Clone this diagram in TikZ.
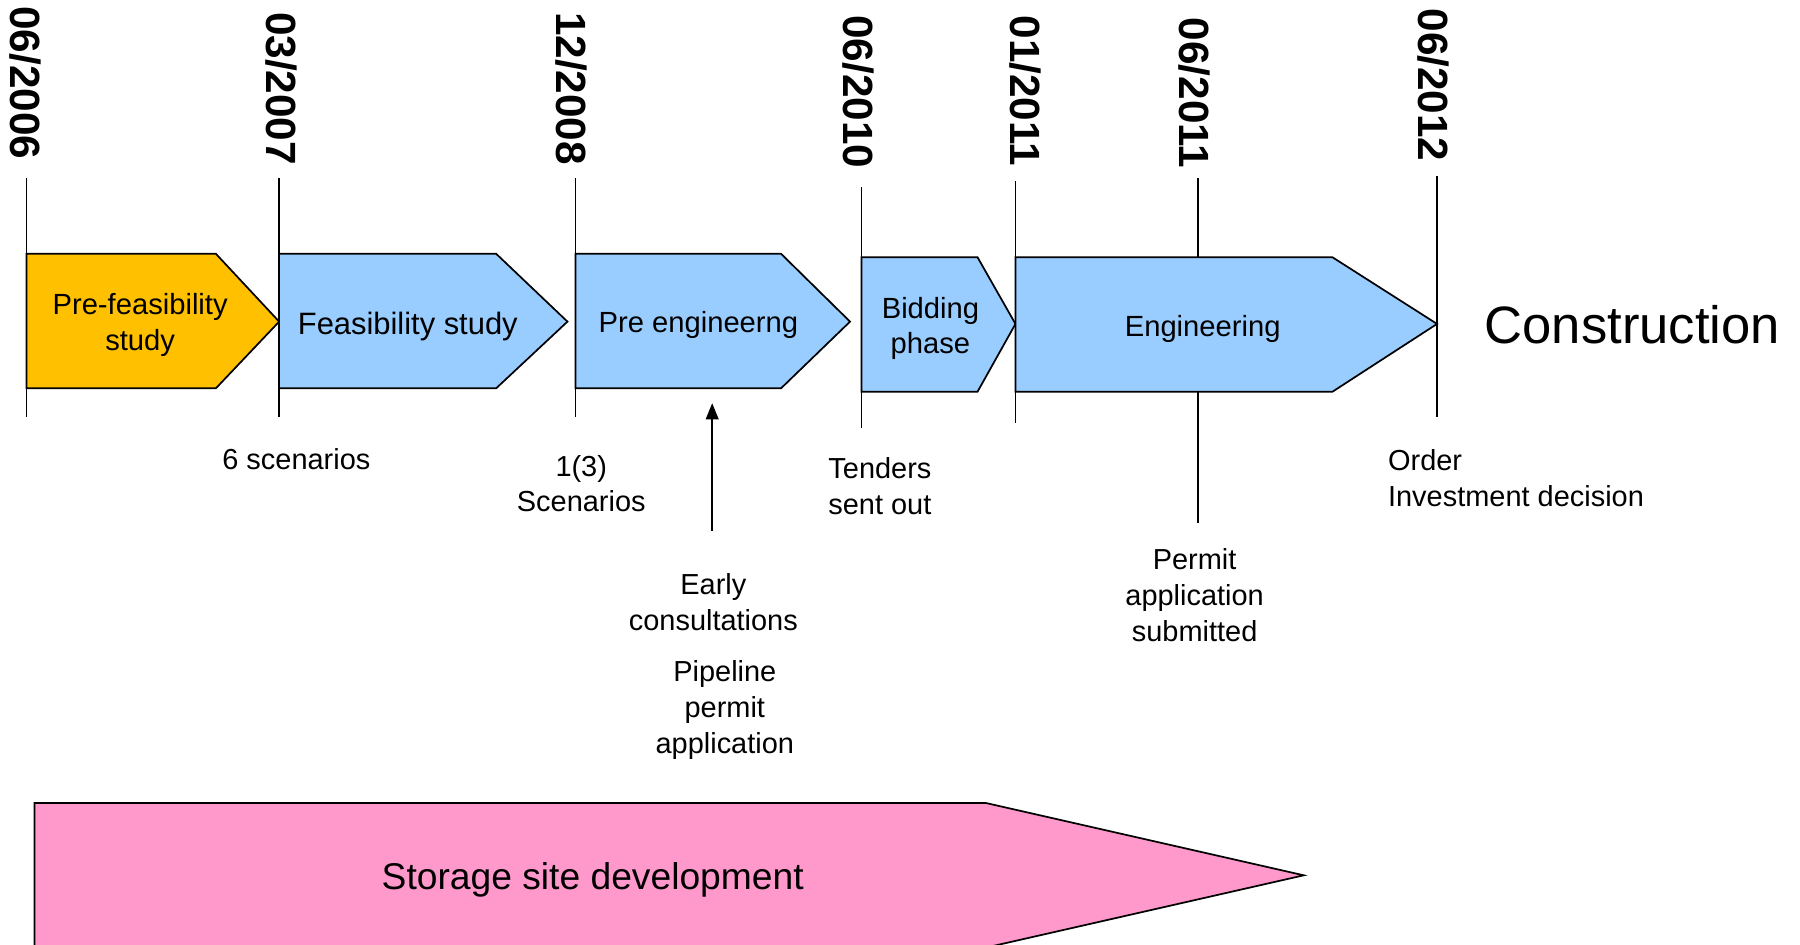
\documentclass[tikz,border=0pt]{standalone}
\usepackage{fontspec}
\setmainfont{Liberation Sans}
\usetikzlibrary{arrows.meta}
\definecolor{phOrange}{HTML}{FFC000}
\definecolor{phBlue}{HTML}{99CCFF}
\definecolor{phPink}{HTML}{FF99CC}
\begin{document}
\begin{tikzpicture}[x=0.5pt,y=-0.5pt,
  phase/.style={draw=black, line width=0.75pt, line join=miter},
  tick/.style={draw=black, line width=0.75pt},
  date/.style={rotate=-90, font=\bfseries\fontsize{18.4}{20}\selectfont, inner sep=0pt},
  boxtxt/.style={align=center, inner sep=0pt, font=\fontsize{12.7}{15.5}\selectfont},
  lbl/.style={align=center, inner sep=0pt, font=\fontsize{12.6}{15.6}\selectfont},
  arr/.style={draw=black, line width=0.75pt, -{Triangle[length=7pt,width=5.5pt]}}
]
\clip (0,0) rectangle (1567,822);
\fill[white] (0,0) rectangle (1567,822);

% milestone lines
\coordinate (t1a) at (23,155);   \coordinate (t1b) at (23,363);
\coordinate (t2a) at (243,155);  \coordinate (t2b) at (243,363);
\coordinate (t3a) at (501,155);  \coordinate (t3b) at (501,363);
\coordinate (t4a) at (750,163);  \coordinate (t4b) at (750,373);
\coordinate (t5a) at (884,158);  \coordinate (t5b) at (884,368);
\coordinate (t6a) at (1043,155); \coordinate (t6b) at (1043,455);
\coordinate (t7a) at (1251,153); \coordinate (t7b) at (1251,363);
\foreach \i in {1,...,7} \draw[tick] (t\i a) -- (t\i b);

% dates
\node[date] (d1) at (22,72)   {06/2006};
\node[date] (d2) at (245,77)  {03/2007};
\node[date] (d3) at (497,77)  {12/2008};
\node[date] (d4) at (747,80)  {06/2010};
\node[date] (d5) at (893,79)  {01/2011};
\node[date] (d6) at (1040,81) {06/2011};
\node[date] (d7) at (1248,74) {06/2012};

% phase arrows
\filldraw[phase, fill=phOrange] (23,221) -- (188,221) -- (243,280) -- (188,338) -- (23,338) -- cycle;
\filldraw[phase, fill=phBlue] (243,221) -- (432,221) -- (494,280) -- (432,338) -- (243,338) -- cycle;
\filldraw[phase, fill=phBlue] (501,221) -- (680,221) -- (740,280) -- (680,338) -- (501,338) -- cycle;
\filldraw[phase, fill=phBlue] (750,224) -- (851,224) -- (884,282) -- (851,341) -- (750,341) -- cycle;
\filldraw[phase, fill=phBlue] (884,224) -- (1160,224) -- (1251,282) -- (1160,341) -- (884,341) -- cycle;
\filldraw[phase, fill=phPink] (30,699) -- (858,699) -- (1135,762) -- (858,825) -- (30,825) -- cycle;

% phase texts
\node[boxtxt] (pf) at (122,283) {Pre-feasibility\\study};
\node[boxtxt, font=\fontsize{13.45}{16}\selectfont] (fs) at (355,284) {Feasibility study};
\node[boxtxt] (pe) at (608,283) {Pre engineerng};
\node[boxtxt] (bp) at (810,286) {Bidding\\phase};
\node[boxtxt] (en) at (1047,286) {Engineering};
\node[inner sep=0pt, font=\fontsize{22.9}{26}\selectfont] (co) at (1421,283) {Construction};
\node[inner sep=0pt, font=\fontsize{16.2}{19}\selectfont] (sd) at (516,766) {Storage site development};

% labels
\node[lbl] (l1) at (258,400) {6 scenarios};
\node[lbl] (l2) at (506,421) {1(3)\\Scenarios};
\node[lbl] (l3) at (766,423) {Tenders\\sent out};
\node[lbl] (l4) at (621,524) {Early\\consultations};
\node[lbl] (l5) at (631,618) {Pipeline\\permit\\application};
\node[lbl] (l6) at (1040,518) {Permit\\application\\submitted};
\node[lbl, align=left, anchor=west] (l7) at (1208,416) {Order\\Investment decision};

% arrow
\coordinate (aS) at (620,462);
\coordinate (aE) at (620,351);
\draw[arr] (aS) -- (aE);
\end{tikzpicture}
\end{document}
